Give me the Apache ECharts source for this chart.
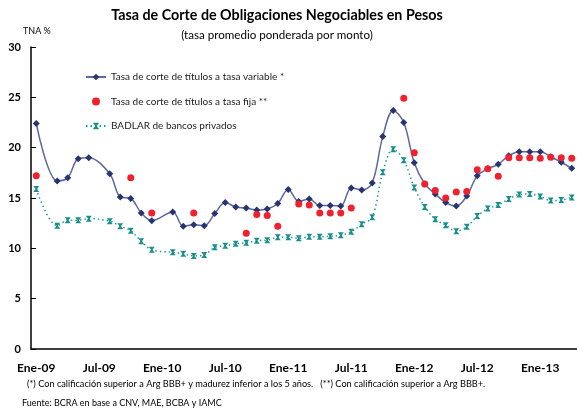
<!DOCTYPE html>
<html>
<head>
<meta charset="utf-8">
<script src="https://cdn.jsdelivr.net/npm/echarts@6/dist/echarts.min.js"></script>
<style>
html,body{margin:0;padding:0;background:#fff}
#chart{width:577px;height:411px}
</style>
</head>
<body>
<div id="chart"></div>
<script>
// Monthly categories, Ene-09 .. Abr-13
const monthNames = ['Ene','Feb','Mar','Abr','May','Jun','Jul','Ago','Sep','Oct','Nov','Dic'];
const yearSuffixes = ['09','10','11','12','13'];
const months = [];
yearSuffixes.forEach(function (yr) {
  monthNames.forEach(function (m) { months.push(m + '-' + yr); });
});
months.length = 52;

// Tasa de corte, títulos a tasa variable (TNA %)
const tasaVariable = [
  22.4, null, 16.7, 17.0, 18.9, 19.0, null, 17.4, 15.1, 14.95,
  13.5, 12.75, null, 13.6, 12.2, 12.35, 12.25, 13.45, 14.55, 14.1,
  14.0, 13.8, 13.9, 14.45, 15.85, 14.65, 14.9, 14.25, 14.25, 14.2,
  16.0, 15.8, 16.5, 21.1, 23.7, 22.5, 18.5, 16.4, 15.4, 14.55,
  14.2, 15.2, 17.2, 17.9, 18.35, 19.2, 19.6, 19.6, 19.6, 19.1,
  18.55, 17.95
];

// Tasa de corte, títulos a tasa fija (TNA %)
const tasaFija = [
  17.2, null, null, null, null, null, null, null, null, 17.0,
  null, 13.5, null, null, null, 13.5, null, null, null, null,
  11.5, 13.35, 13.25, 12.2, null, 14.4, 14.3, 13.5, 13.5, 13.5,
  14.0, null, null, null, null, 24.9, 19.5, 16.4, 15.75, 15.0,
  15.6, 15.65, 17.8, 17.9, 17.15, 19.0, 19.0, 19.0, 18.95, 19.05,
  19.0, 18.95
];

// BADLAR de bancos privados (TNA %)
const badlar = [
  15.9, null, 12.25, 12.8, 12.8, 12.95, null, 12.7, 12.2, 11.75,
  10.7, 9.85, null, 9.6, 9.45, 9.25, 9.35, 10.1, 10.25, 10.45,
  10.55, 10.75, 10.8, 11.1, 11.1, 11.0, 11.15, 11.15, 11.2, 11.3,
  11.65, 12.4, 13.1, 17.55, 19.85, 18.75, 16.05, 14.1, 12.9, 12.3,
  11.7, 12.15, 13.2, 13.95, 14.3, 14.9, 15.35, 15.4, 15.15, 14.75,
  14.8, 15.05
];

const seriesNames = [
  'Tasa de corte de títulos a tasa variable *',
  'Tasa de corte de títulos a tasa fija **',
  'BADLAR de bancos privados'
];

const FONT = 'Lato, "DejaVu Sans", sans-serif';
const hourglass = 'path://M0,0H10L6.2,5L10,10H0L3.8,5Z';

const chart = echarts.init(document.getElementById('chart'), null, { renderer: 'canvas' });

chart.setOption({
  animation: false,
  backgroundColor: '#ffffff',
  textStyle: { fontFamily: FONT },
  grid: { left: 31, top: 47, width: 548.6, height: 302, containLabel: false },
  legend: {
    orient: 'vertical',
    left: 85,
    top: 72,
    padding: 0,
    itemWidth: 20,
    itemHeight: 8,
    itemGap: 14.5,
    data: seriesNames,
    textStyle: { fontFamily: FONT, fontSize: 10, color: '#222' }
  },
  xAxis: {
    type: 'category',
    data: months,
    boundaryGap: true,
    axisLine: { lineStyle: { color: '#000', width: 1.5 } },
    axisTick: { inside: true, length: 4, interval: 5, lineStyle: { color: '#000' } },
    axisLabel: {
      interval: 5,
      margin: 13,
      fontFamily: FONT,
      fontWeight: 'bold',
      fontSize: 12,
      color: '#000'
    },
    splitLine: { show: false }
  },
  yAxis: {
    type: 'value',
    min: 0,
    max: 30,
    interval: 5,
    axisLine: { show: true, lineStyle: { color: '#000', width: 1.5 } },
    axisTick: { show: true, inside: true, length: 5, lineStyle: { color: '#000' } },
    axisLabel: {
      margin: 10,
      fontFamily: FONT,
      fontWeight: 'bold',
      fontSize: 11,
      color: '#000'
    },
    splitLine: { show: false }
  },
  series: [
    {
      name: seriesNames[2],
      type: 'line',
      data: badlar,
      connectNulls: true,
      smooth: 0.35,
      symbol: hourglass,
      symbolSize: 6,
      z: 2,
      lineStyle: { color: '#1f9c97', width: 1.5, type: [1.5, 3] },
      itemStyle: { color: '#1a8f8a' }
    },
    {
      name: seriesNames[0],
      type: 'line',
      data: tasaVariable,
      connectNulls: true,
      smooth: 0.35,
      symbol: 'diamond',
      symbolSize: 7,
      z: 3,
      lineStyle: { color: '#5d689c', width: 1.5 },
      itemStyle: { color: '#27346f' }
    },
    {
      name: seriesNames[1],
      type: 'scatter',
      data: tasaFija,
      symbol: 'circle',
      symbolSize: 7,
      z: 4,
      itemStyle: { color: '#f0202e', opacity: 1 }
    }
  ],
  graphic: [
    {
      type: 'text', x: 277, y: 15,
      style: {
        text: 'Tasa de Corte de Obligaciones Negociables en Pesos',
        font: 'bold 14.3px ' + FONT, fill: '#000',
        textAlign: 'center', textVerticalAlign: 'middle'
      }
    },
    {
      type: 'text', x: 277, y: 35,
      style: {
        text: '(tasa promedio ponderada por monto)',
        font: '11.6px ' + FONT, fill: '#000',
        textAlign: 'center', textVerticalAlign: 'middle'
      }
    },
    {
      type: 'text', x: 23, y: 31,
      style: {
        text: 'TNA %', font: '9px ' + FONT, fill: '#000',
        textAlign: 'left', textVerticalAlign: 'middle'
      }
    },
    {
      type: 'text', x: 27, y: 384,
      style: {
        text: '(*) Con calificación superior a Arg BBB+ y madurez inferior a los 5 años.   (**) Con calificación superior a Arg BBB+.',
        font: '9.2px ' + FONT, fill: '#000',
        textAlign: 'left', textVerticalAlign: 'middle'
      }
    },
    {
      type: 'text', x: 22, y: 403,
      style: {
        text: 'Fuente: BCRA en base a CNV, MAE, BCBA y IAMC',
        font: '9px ' + FONT, fill: '#000',
        textAlign: 'left', textVerticalAlign: 'middle'
      }
    }
  ]
});
</script>
</body>
</html>
